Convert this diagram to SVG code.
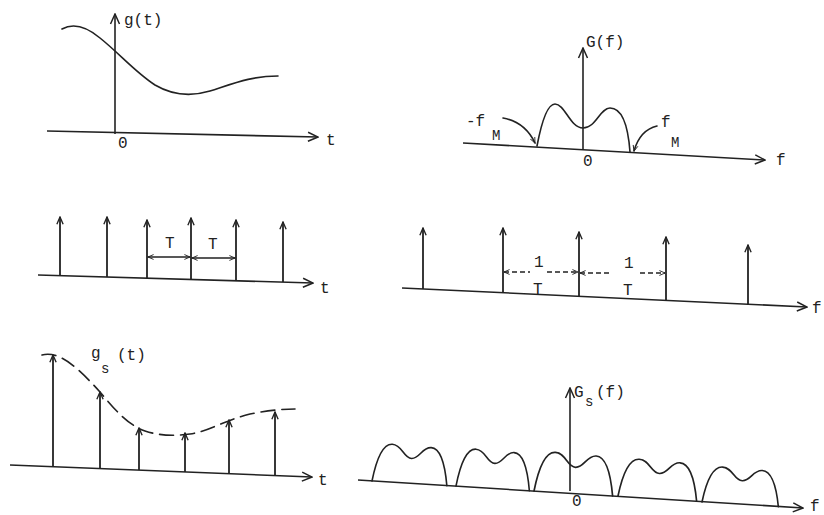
<svg xmlns="http://www.w3.org/2000/svg" xmlns:xlink="http://www.w3.org/1999/xlink" width="824" height="515" viewBox="0 0 824 515">
<style>
.ln{fill:none;stroke:#222;stroke-width:1.6;stroke-linecap:round}
.ax{fill:none;stroke:#222;stroke-width:1.6;marker-end:url(#ah)}
.imp{fill:none;stroke:#222;stroke-width:1.8;marker-end:url(#ih)}
.dsh{fill:none;stroke:#222;stroke-width:1.3;stroke-dasharray:5 3}
text{font-family:"Liberation Mono","DejaVu Sans Mono",monospace;font-size:16px;fill:#222}
.sub{font-size:14px}
</style>
<defs>
<marker id="ah" viewBox="0 0 12 12" refX="11" refY="6" markerWidth="12" markerHeight="12" markerUnits="userSpaceOnUse" orient="auto-start-reverse"><path d="M1,1.5 L11,6 L1,10.5" fill="none" stroke="#222" stroke-width="1.5"/></marker>
<marker id="ih" viewBox="0 0 10 10" refX="9" refY="5" markerWidth="9" markerHeight="9" markerUnits="userSpaceOnUse" orient="auto-start-reverse"><path d="M1,1.5 L9,5 L1,8.5" fill="none" stroke="#222" stroke-width="1.5"/></marker>
<marker id="sh" viewBox="0 0 10 10" refX="9" refY="5" markerWidth="7" markerHeight="7" markerUnits="userSpaceOnUse" orient="auto-start-reverse"><path d="M1,1.5 L9,5 L1,8.5" fill="none" stroke="#222" stroke-width="1.3"/></marker>
<path id="lobe" d="M0,0 C3,-22 8,-38 18,-38 C28,-38 30,-25 38,-25 C46,-25 48,-37 57,-37 C67,-37 72,-20 75,0"/>
</defs>

<g id="g-t">
<line class="ax" x1="47" y1="131" x2="318" y2="137"/>
<line class="ax" x1="115" y1="134" x2="115" y2="14"/>
<path class="ln" d="M62,29 C75,22 88,28 100,38 C120,54 135,72 155,85 C172,95 190,97 210,91 C235,83 252,76 278,76"/>
<text x="124" y="25">g(t)</text>
<text x="118" y="148">0</text>
<text x="326" y="145">t</text>
</g>

<g id="G-f">
<line class="ax" x1="463" y1="143" x2="765" y2="160"/>
<line class="ax" x1="583" y1="150" x2="583" y2="48"/>
<path class="ln" d="M537,146 C541,125 547,104 555,104 C565,104 570,128 583,128 C596,128 600,108 610,108 C622,108 628,125 630,152"/>
<text x="586" y="47">G(f)</text>
<text x="466" y="126">-f</text>
<text class="sub" x="492" y="140">M</text>
<path class="ln" d="M503,118 Q525,122 535,143" style="marker-end:url(#sh)"/>
<text x="661" y="127">f</text>
<text class="sub" x="671" y="147">M</text>
<path class="ln" d="M657,126 Q640,130 634,151" style="marker-end:url(#sh)"/>
<text x="583" y="166">0</text>
<text x="776" y="165">f</text>
</g>

<g id="impulse-t">
<line class="ax" x1="38" y1="275" x2="313" y2="283"/>
<line class="imp" x1="60" y1="276" x2="60" y2="217"/>
<line class="imp" x1="107" y1="277" x2="107" y2="217"/>
<line class="imp" x1="147" y1="278" x2="147" y2="220"/>
<line class="imp" x1="191" y1="279" x2="191" y2="218"/>
<line class="imp" x1="236" y1="281" x2="236" y2="220"/>
<line class="imp" x1="283" y1="282" x2="283" y2="222"/>
<line class="ln" x1="148" y1="257" x2="190" y2="257" style="marker-start:url(#sh);marker-end:url(#sh)"/>
<line class="ln" x1="192" y1="258" x2="235" y2="258" style="marker-start:url(#sh);marker-end:url(#sh)"/>
<text x="165" y="248">T</text>
<text x="208" y="249">T</text>
<text x="320" y="293">t</text>
</g>

<g id="impulse-f">
<line class="ax" x1="402" y1="288" x2="807" y2="307"/>
<line class="imp" x1="423" y1="289" x2="423" y2="228"/>
<line class="imp" x1="503" y1="293" x2="503" y2="228"/>
<line class="imp" x1="579" y1="296" x2="579" y2="232"/>
<line class="imp" x1="666" y1="300" x2="666" y2="237"/>
<line class="imp" x1="748" y1="304" x2="748" y2="245"/>
<line class="dsh" x1="504" y1="272" x2="530" y2="272" style="marker-start:url(#sh)"/>
<line class="dsh" x1="547" y1="272" x2="578" y2="272" style="marker-end:url(#sh)"/>
<line class="dsh" x1="580" y1="273" x2="612" y2="273" style="marker-start:url(#sh)"/>
<line class="dsh" x1="640" y1="273" x2="665" y2="273" style="marker-end:url(#sh)"/>
<text x="534" y="267">1</text>
<text x="533" y="294">T</text>
<text x="624" y="268">1</text>
<text x="623" y="295">T</text>
<text x="812" y="313">f</text>
</g>

<g id="gs-t">
<line class="ax" x1="10" y1="465" x2="312" y2="477"/>
<line class="imp" x1="53" y1="467" x2="53" y2="355"/>
<line class="imp" x1="100" y1="469" x2="100" y2="392"/>
<line class="imp" x1="139" y1="470" x2="139" y2="428"/>
<line class="imp" x1="185" y1="472" x2="185" y2="433"/>
<line class="imp" x1="229" y1="474" x2="229" y2="420"/>
<line class="imp" x1="275" y1="476" x2="275" y2="412"/>
<path class="ln" style="stroke-dasharray:14 7" d="M42,355 C60,350 80,370 100,392 C115,410 128,425 145,431 C160,436 175,436 190,434 C210,431 225,420 250,414 C265,411 280,409 295,409"/>
<text x="91" y="358">g</text>
<text class="sub" x="101" y="373">s</text>
<text x="117" y="360">(t)</text>
<text x="318" y="485">t</text>
</g>

<g id="Gs-f">
<line class="ax" x1="358" y1="480" x2="803" y2="508"/>
<line class="ax" x1="570" y1="491" x2="570" y2="388"/>
<use href="#lobe" class="ln" transform="translate(372,481) rotate(3.6)"/>
<use href="#lobe" class="ln" transform="translate(456,486) rotate(3.6) scale(0.98,1)"/>
<use href="#lobe" class="ln" transform="translate(534,491) rotate(3.6) scale(1.05,1.05)"/>
<use href="#lobe" class="ln" transform="translate(618,496) rotate(3.6) scale(1.05,1)"/>
<use href="#lobe" class="ln" transform="translate(702,502) rotate(3.6) scale(1.02,0.95)"/>
<text x="574" y="397">G</text>
<text class="sub" x="585" y="406">s</text>
<text x="596" y="397">(f)</text>
<text x="572" y="506">0</text>
<text x="810" y="511">f</text>
</g>
</svg>
